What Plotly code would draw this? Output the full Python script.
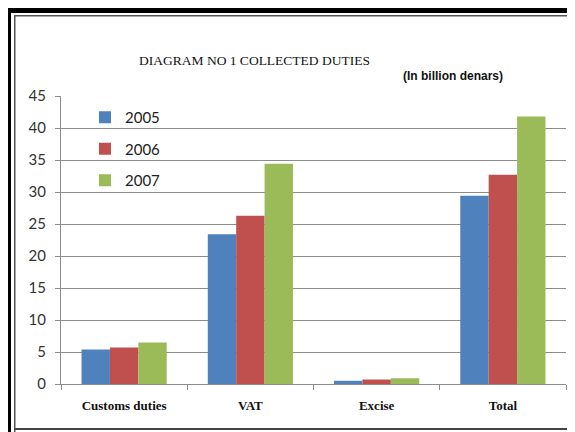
import plotly.graph_objects as go

categories = ["Customs duties", "VAT", "Excise", "Total"]
years = ["2005", "2006", "2007"]
values_2005 = [5.4, 23.4, 0.5, 29.4]
values_2006 = [5.7, 26.3, 0.7, 32.7]
values_2007 = [6.5, 34.4, 0.9, 41.8]
colors = ["#4F81BD", "#C0504D", "#9BBB59"]
y_ticks = [0, 5, 10, 15, 20, 25, 30, 35, 40, 45]

OFF = 8  # page body margin
W_FIG, H_FIG = 575 - OFF, 432 - OFF
# plot area in screen pixels
L, R, T, B = 61, 566, 96, 384
PW, PH = R - L, B - T


def px(x):
    return (x - L) / PW


def py(y):
    return (B - y) / PH


fig = go.Figure()
for yr, vals, col in zip(years, [values_2005, values_2006, values_2007], colors):
    fig.add_trace(go.Bar(x=categories, y=vals, name=yr, marker_color=col,
                         marker_line_width=0, legendgroup=yr))

shapes = []


def band(x0, y0, x1, y1, color):
    shapes.append(dict(type="rect", xref="paper", yref="paper",
                       x0=px(x0), x1=px(x1), y0=py(y0), y1=py(y1),
                       fillcolor=color, line=dict(width=0), layer="above"))


band(0, 0, 600, 13, "#000000")
band(0, 0, 11, 460, "#000000")
band(14, 15, 600, 16.5, "#555555")
band(14, 15, 15.5, 460, "#555555")
band(14, 428, 600, 430, "#444444")

fig.update_layout(
    width=W_FIG, height=H_FIG,
    margin=dict(l=L - OFF, r=575 - R, t=T - OFF, b=432 - B),
    paper_bgcolor="white", plot_bgcolor="white",
    barmode="group", bargap=0.325, bargroupgap=0,
    shapes=shapes,
    showlegend=True,
    legend=dict(x=px(85), y=py(101), xanchor="left", yanchor="top",
                font=dict(family="Lato, sans-serif", size=15, color="#222222"),
                tracegroupgap=9, bgcolor="rgba(0,0,0,0)", itemwidth=30),
    annotations=[
        dict(text="DIAGRAM NO 1 COLLECTED DUTIES", xref="paper", yref="paper",
             x=px(254.5), y=py(60.7), xanchor="center", yanchor="middle",
             showarrow=False,
             font=dict(family="Liberation Serif, serif", size=13.5, color="#111111")),
        dict(text="<b>(In billion denars)</b>", xref="paper", yref="paper",
             x=px(453), y=py(75.7), xanchor="center", yanchor="middle",
             showarrow=False,
             font=dict(family="Liberation Sans, Arial, sans-serif", size=12, color="#111111")),
    ],
)

fig.update_xaxes(
    type="category", showline=True, linecolor="#8c8c8c", linewidth=1,
    ticks="outside", tickson="boundaries", ticklen=5, tickcolor="#8c8c8c",
    showgrid=False,
    tickfont=dict(family="Liberation Serif, serif", size=13, color="#111111"),
    ticktext=["<b>%s</b>" % c for c in categories], tickvals=categories,
    ticklabelstandoff=9,
)
fig.update_yaxes(
    range=[0, 45], tickvals=y_ticks, showline=True, linecolor="#8c8c8c", linewidth=1,
    ticks="outside", ticklen=5, tickcolor="#8c8c8c",
    showgrid=True, gridcolor="#8c8c8c", gridwidth=1, zeroline=False,
    tickfont=dict(family="Lato, sans-serif", size=15, color="#333333"),
    ticklabelstandoff=6,
)

fig.write_html("out.html")
